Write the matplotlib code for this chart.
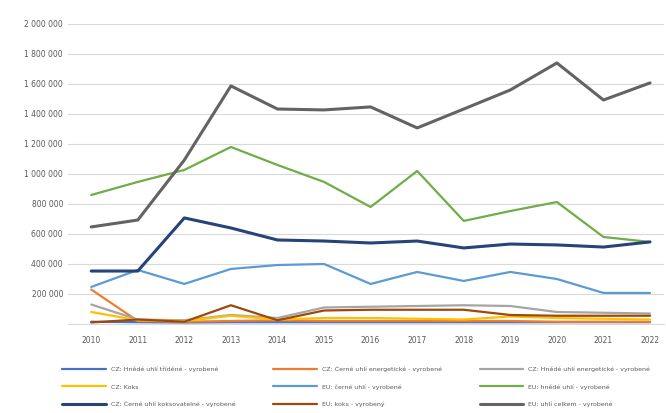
import matplotlib
matplotlib.use("Agg")
import matplotlib.pyplot as plt
from matplotlib.ticker import FuncFormatter

years = ["2010", "2011", "2012", "2013", "2014", "2015", "2016",
         "2017", "2018", "2019", "2020", "2021", "2022"]

labels = ["CZ: Hnědé uhlí tříděné - vyrobené",
          "CZ: Černé uhlí energetické - vyrobené",
          "CZ: Hnědé uhlí energetické - vyrobené",
          "CZ: Koks",
          "EU: černé uhlí - vyrobené",
          "EU: hnědé uhlí - vyrobené",
          "CZ: Černé uhlí koksovatelné - vyrobené",
          "EU: koks - vyrobený",
          "EU: uhlí celkem - vyrobené"]

s1 = [15000, 12000, 10000, 12000, 12000, 12000, 12000, 12000, 12000, 12000, 12000, 12000, 12000]
s2 = [230000, 20000, 15000, 20000, 25000, 20000, 20000, 20000, 20000, 20000, 15000, 15000, 15000]
s3 = [130000, 30000, 25000, 60000, 40000, 110000, 115000, 120000, 125000, 120000, 80000, 75000, 70000]
s4 = [80000, 25000, 20000, 55000, 30000, 40000, 40000, 35000, 30000, 50000, 40000, 35000, 30000]
s5 = [247000, 360000, 267000, 367000, 393000, 400000, 267000, 347000, 287000, 347000, 300000, 207000, 207000]
s6 = [860000, 947000, 1027000, 1180000, 1060000, 947000, 780000, 1020000, 687000, 753000, 813000, 580000, 547000]
s7 = [353000, 353000, 707000, 640000, 560000, 553000, 540000, 553000, 507000, 533000, 527000, 513000, 547000]
s8 = [10000, 30000, 15000, 125000, 25000, 90000, 95000, 95000, 95000, 60000, 55000, 55000, 55000]
s9 = [647000, 693000, 1093000, 1587000, 1433000, 1427000, 1447000, 1307000, 1433000, 1560000, 1740000, 1493000, 1607000]

series = [s1, s2, s3, s4, s5, s6, s7, s8, s9]
colors = ["#4472C4", "#ED7D31", "#A5A5A5", "#FFC000", "#5B9BD5",
          "#70AD47", "#264478", "#9E480E", "#636363"]
widths = [1.6, 1.6, 1.6, 1.6, 1.6, 1.6, 2.2, 1.6, 2.2]

fig = plt.figure(figsize=(6.66, 4.13), dpi=100)
ax = fig.add_axes([0.102, 0.2155, 0.895, 0.7265])

x = list(range(len(years)))
handles = []
for vals, c, lw, lab in zip(series, colors, widths, labels):
    h, = ax.plot(x, vals, color=c, linewidth=lw, label=lab, solid_capstyle="round")
    handles.append(h)

ax.set_ylim(0, 2000000)
ax.set_xlim(-0.5, 12.3)
ax.set_yticks(range(200000, 2000001, 200000))
ax.yaxis.set_major_formatter(FuncFormatter(lambda v, p: f"{int(v):,}".replace(",", " ")))
ax.set_xticks(x)
ax.set_xticklabels(years)
ax.tick_params(length=0, labelsize=5.5, colors="#595959")
ax.tick_params(axis="x", pad=9)
ax.grid(axis="y", color="#D9D9D9", linewidth=0.8)
ax.set_axisbelow(True)
for s in ["top", "right", "left"]:
    ax.spines[s].set_visible(False)
ax.spines["bottom"].set_color("#D9D9D9")

# Excel fills the legend row by row
order = [0, 3, 6, 1, 4, 7, 2, 5, 8]
fig.legend([handles[i] for i in order], [labels[i] for i in order],
           loc="lower center", bbox_to_anchor=(0.535, 0.0), ncol=3,
           fontsize=4.5, frameon=False, handlelength=7, columnspacing=6,
           labelspacing=1.9, labelcolor="#595959")

fig.savefig("out.png", dpi=100)
